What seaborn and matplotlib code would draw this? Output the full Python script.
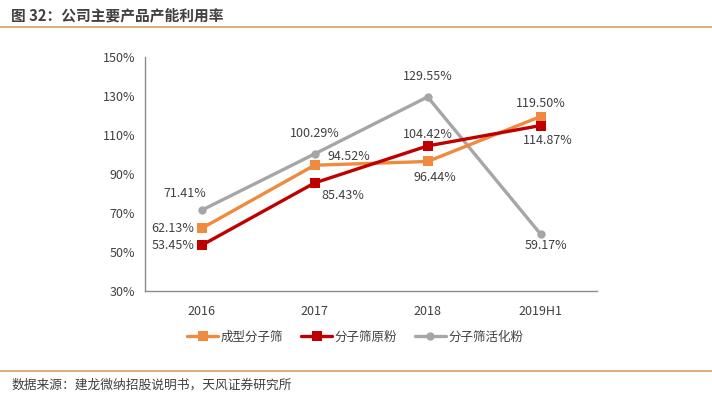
import numpy as np
import pandas as pd
import seaborn as sns
import matplotlib.pyplot as plt
from matplotlib.lines import Line2D

# data
years = ["2016", "2017", "2018", "2019H1"]
molded = [62.13, 94.52, 96.44, 119.50]      # 成型分子筛
raw_powder = [53.45, 85.43, 104.42, 114.87]  # 分子筛原粉
act_powder = [71.41, 100.29, 129.55, 59.17]  # 分子筛活化粉
series_names = ["成型分子筛", "分子筛原粉", "分子筛活化粉"]
y_ticks = [30, 50, 70, 90, 110, 130, 150]

colors = {"成型分子筛": "#F08A3E", "分子筛原粉": "#C00000", "分子筛活化粉": "#A6A6A6"}
markers = {"成型分子筛": "s", "分子筛原粉": "s", "分子筛活化粉": "o"}

rows = []
for name, vals in zip(series_names, [molded, raw_powder, act_powder]):
    for i, v in enumerate(vals):
        rows.append({"pos": i, "year": years[i], "value": v, "series": name})
df = pd.DataFrame(rows)

sns.set_theme(style="white")
plt.rcParams["font.family"] = ["Noto Sans CJK SC", "DejaVu Sans"]

fig = plt.figure(figsize=(7.12, 3.96), dpi=100)
ax = fig.add_axes([0.2037, 0.265, 0.635, 0.591])

# draw lines in order grey, orange, red so red sits on top like the original
for name in ["分子筛活化粉", "成型分子筛", "分子筛原粉"]:
    sub = df[df["series"] == name]
    sns.lineplot(data=sub, x="pos", y="value", ax=ax, color=colors[name],
                 marker=markers[name], markersize=7 if markers[name] == "s" else 6,
                 markeredgewidth=0, linewidth=2.4, legend=False)

ax.set_xlim(-0.5, len(years) - 0.5)
ax.set_ylim(30, 150)
ax.set_yticks(y_ticks)
ax.set_yticklabels([f"{t}%" for t in y_ticks])
ax.set_xticks(range(len(years)))
ax.set_xticklabels(years)
ax.set_xticks(np.arange(-0.5, len(years)), minor=True)
ax.set_xlabel("")
ax.set_ylabel("")

for s in ["top", "right"]:
    ax.spines[s].set_visible(False)
for s in ["left", "bottom"]:
    ax.spines[s].set_color("#8C8C8C")
    ax.spines[s].set_linewidth(1.0)

ax.tick_params(axis="y", which="major", direction="out", length=4, width=1,
               color="#8C8C8C", labelsize=9, labelcolor="#404040", pad=3)
ax.tick_params(axis="x", which="major", length=0, labelsize=9,
               labelcolor="#404040", pad=10)
ax.tick_params(axis="x", which="minor", direction="in", length=4, width=1,
               color="#8C8C8C")

# data labels: (series, index, dx px, dy px, ha)
label_spots = [
    ("分子筛活化粉", 0, -17, 17, "center"),
    ("成型分子筛", 0, -7, 0, "right"),
    ("分子筛原粉", 0, -7, 0, "right"),
    ("分子筛活化粉", 1, 0, 20, "center"),
    ("成型分子筛", 1, 13, 9, "left"),
    ("分子筛原粉", 1, 7, -13, "left"),
    ("分子筛活化粉", 2, 0, 20, "center"),
    ("分子筛原粉", 2, 0, 11, "center"),
    ("成型分子筛", 2, 7, -16, "center"),
    ("成型分子筛", 3, 0, 13, "center"),
    ("分子筛原粉", 3, 7, -15, "center"),
    ("分子筛活化粉", 3, 5, -11, "center"),
]
data_map = {"成型分子筛": molded, "分子筛原粉": raw_powder, "分子筛活化粉": act_powder}
for name, i, dx, dy, ha in label_spots:
    v = data_map[name][i]
    ax.annotate(f"{v:.2f}%", xy=(i, v), xytext=(dx, dy), textcoords="offset pixels",
                ha=ha, va="center", fontsize=9, color="#404040")

handles = [Line2D([0], [0], color=colors[n], marker=markers[n], linewidth=2.4,
                  markersize=7 if markers[n] == "s" else 6, markeredgewidth=0)
           for n in series_names]
fig.legend(handles, series_names, loc="center", bbox_to_anchor=(0.499, 0.149),
           ncol=3, frameon=False, fontsize=9, handlelength=2.5, handletextpad=0.2,
           columnspacing=1.4, labelcolor="#404040")

# title, rules and source
fig.text(0.016, 0.962, "图 32：公司主要产品产能利用率", fontsize=10.6, fontweight="bold",
         color="#404040", ha="left", va="center")
fig.add_artist(Line2D([0, 1], [0.931, 0.931], color="#D9A066", linewidth=1.2,
                      transform=fig.transFigure))
fig.add_artist(Line2D([0, 1], [0.063, 0.063], color="#D9A066", linewidth=1.2,
                      transform=fig.transFigure))
fig.text(0.016, 0.028, "数据来源：建龙微纳招股说明书，天风证券研究所", fontsize=9.2,
         color="#404040", ha="left", va="center")

fig.savefig("out.png", dpi=100)
